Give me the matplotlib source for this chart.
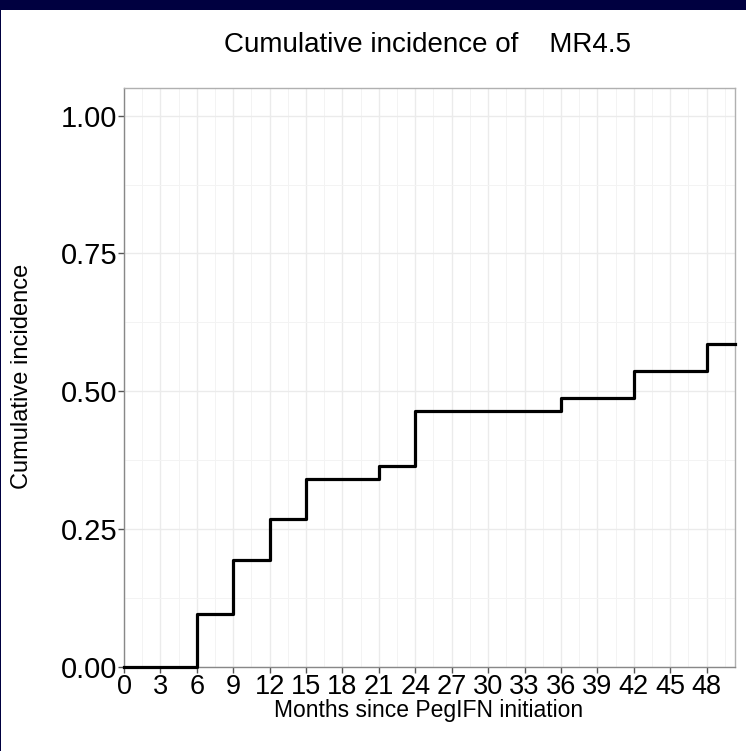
import matplotlib.pyplot as plt
from matplotlib.patches import Rectangle
from matplotlib.ticker import MultipleLocator
import numpy as np

# cumulative incidence step data
months = [0, 6, 9, 12, 15, 21, 24, 36, 42, 48, 50.3]
cuminc = [0, 0.097, 0.194, 0.268, 0.341, 0.365, 0.464, 0.487, 0.536, 0.585, 0.585]

xticks = list(range(0, 49, 3))
yticks = [0, 0.25, 0.5, 0.75, 1.0]
ytick_labels = ['0.00', '0.25', '0.50', '0.75', '1.00']

plt.rcParams['font.family'] = ['Liberation Sans', 'DejaVu Sans']

W, H = 746, 751
fig = plt.figure(figsize=(W / 100, H / 100), dpi=100)
fig.patch.set_facecolor('white')

# navy frame from the slide
fig.patches.append(Rectangle((0, 1 - 10 / H), 1, 10 / H, transform=fig.transFigure,
                             color='#000040', zorder=0, lw=0))
fig.patches.append(Rectangle((0, 0), 1.2 / W, 1, transform=fig.transFigure,
                             color='#000040', zorder=0, lw=0))

left, right, top, bottom = 124 / W, 734.5 / W, 1 - 88 / H, 1 - 667 / H
ax = fig.add_axes([left, bottom, right - left, top - bottom])

ax.step(months, cuminc, where='post', color='black', lw=2.3, zorder=3, clip_on=False)

ax.set_xlim(0, 50.3)
ax.set_ylim(0, 1.05)
ax.set_xticks(xticks)
ax.set_xticklabels([str(t) for t in xticks], fontsize=19.5)
ax.set_yticks(yticks)
ax.set_yticklabels(ytick_labels, fontsize=21)
ax.xaxis.set_minor_locator(MultipleLocator(1.5))
ax.yaxis.set_minor_locator(MultipleLocator(0.125))

ax.grid(which='major', color='#ebebeb', lw=1.0)
ax.grid(which='minor', color='#f3f3f3', lw=0.7)
ax.set_axisbelow(True)

ax.tick_params(which='major', length=4, width=1, color='#555555', pad=1)
ax.tick_params(which='minor', length=0)

for side in ['left', 'bottom']:
    ax.spines[side].set_color('#888888')
    ax.spines[side].set_linewidth(1)
for side in ['top', 'right']:
    ax.spines[side].set_color('#b0b0b0')
    ax.spines[side].set_linewidth(1)

fig.text(427 / W, 1 - 45 / H, 'Cumulative incidence of    MR4.5',
         ha='center', va='center', fontsize=20)
fig.text(429 / W, 1 - 711 / H, 'Months since PegIFN initiation',
         ha='center', va='center', fontsize=16.5)
fig.text(22 / W, 1 - 376 / H, 'Cumulative incidence', rotation=90,
         ha='center', va='center', fontsize=17)

fig.savefig('out.png', dpi=100)
